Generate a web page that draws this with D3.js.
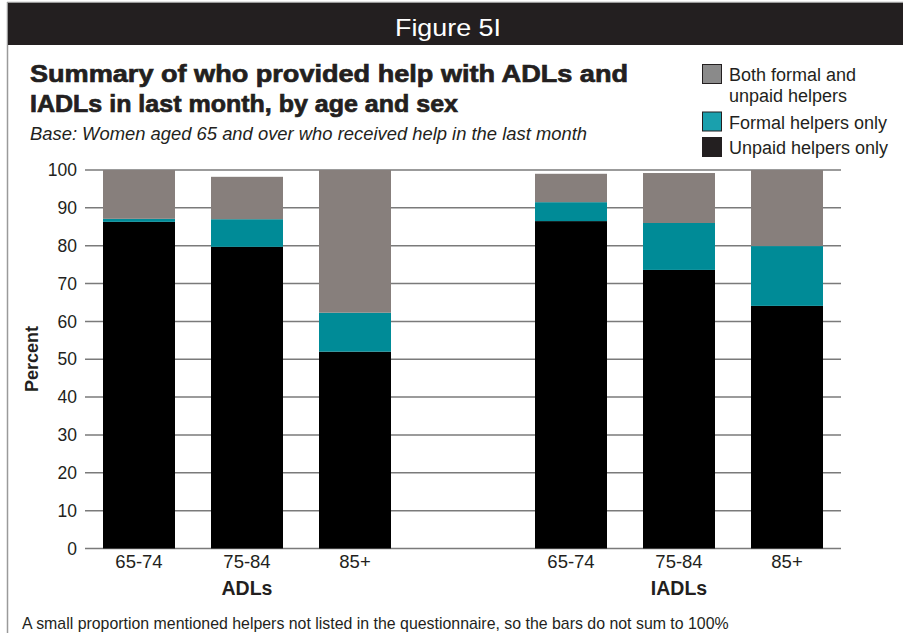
<!DOCTYPE html>
<html><head><meta charset="utf-8">
<script src="https://cdn.jsdelivr.net/npm/d3@7"></script>
<style>body{margin:0;background:#fff}svg{display:block;font-family:"Liberation Sans",Arial,sans-serif}</style>
</head><body>
<script>
const categories = ["ADL 65-74","ADL 75-84","ADL 85+","gap","IADL 65-74","IADL 75-84","IADL 85+"];
const tickLabels = ["65-74","75-84","85+","","65-74","75-84","85+"];
const groupLabels = ["ADLs","IADLs"];
const groupCenters = ["ADL 75-84","IADL 75-84"];
const unpaidOnly = [86.3, 79.7, 52.0, null, 86.5, 73.6, 64.1];
const formalOnly = [0.8, 7.3, 10.3, null, 5.0, 12.4, 15.8];
const bothHelpers = [12.9, 11.2, 37.7, null, 7.5, 13.2, 20.1];
const yTicks = [0,10,20,30,40,50,60,70,80,90,100];

const W = 903, H = 633;
const ink = "#231f20";
const svg = d3.select("body").append("svg").attr("width", W).attr("height", H);

// frame
svg.append("line").attr("x1",7).attr("x2",W).attr("y1",2.5).attr("y2",2.5).attr("stroke","#9a9a9a").attr("stroke-width",1.5);
svg.append("line").attr("x1",7.5).attr("x2",7.5).attr("y1",2).attr("y2",H).attr("stroke","#9a9a9a").attr("stroke-width",1.5);
svg.append("rect").attr("x",8).attr("y",3).attr("width",W-8).attr("height",42).attr("fill",ink);
svg.append("text").attr("x",395).attr("y",36).attr("fill","#fff")
  .attr("font-size",24).attr("textLength",106).attr("lengthAdjust","spacingAndGlyphs").text("Figure 5I");

// title
svg.append("text").attr("x",30).attr("y",82).attr("font-size",24).attr("font-weight",900).attr("fill",ink)
  .attr("stroke",ink).attr("stroke-width",0.7)
  .attr("textLength",598).attr("lengthAdjust","spacingAndGlyphs").text("Summary of who provided help with ADLs and");
svg.append("text").attr("x",30).attr("y",112).attr("font-size",24).attr("font-weight",900).attr("fill",ink)
  .attr("stroke",ink).attr("stroke-width",0.7)
  .attr("textLength",428).attr("lengthAdjust","spacingAndGlyphs").text("IADLs in last month, by age and sex");
svg.append("text").attr("x",30).attr("y",140).attr("font-size",17.5).attr("font-style","italic").attr("fill",ink)
  .attr("textLength",557).attr("lengthAdjust","spacingAndGlyphs")
  .text("Base: Women aged 65 and over who received help in the last month");

// scales
const x = d3.scaleBand().domain(categories).range([85, 841]).paddingInner(1/3).paddingOuter(1/6);
const y = d3.scaleLinear().domain([0,100]).range([548.5, 170]);

// grid
svg.append("g").selectAll("line").data(yTicks).join("line")
  .attr("x1",85).attr("x2",841).attr("y1",d=>y(d)).attr("y2",d=>y(d))
  .attr("stroke","#7a7a7a").attr("stroke-width",1.5);

// y axis labels
const ya = svg.append("g").attr("transform","translate(85,0)")
  .call(d3.axisLeft(y).tickValues(yTicks).tickSize(0).tickPadding(8));
ya.select(".domain").remove();
ya.selectAll("text").attr("font-size",17.5).attr("fill",ink).attr("font-family","Liberation Sans, Arial, sans-serif");

// stacks
const rows = categories.map((c,i)=>({cat:c, unpaid:unpaidOnly[i], formal:formalOnly[i], both:bothHelpers[i]})).filter(r=>r.unpaid!==null);
const stack = d3.stack().keys(["unpaid","formal","both"]);
const colors = {unpaid:"#000000", formal:"#008b97", both:"#877f7c"};
svg.append("g").selectAll("g").data(stack(rows)).join("g").attr("fill",d=>colors[d.key])
  .selectAll("rect").data(d=>d).join("rect")
  .attr("x",d=>x(d.data.cat)).attr("width",x.bandwidth())
  .attr("y",d=>y(d[1])).attr("height",d=>y(d[0])-y(d[1]));

// x axis
const xa = svg.append("g").attr("transform","translate(0,548.5)")
  .call(d3.axisBottom(x).tickSize(0).tickPadding(6).tickFormat((d,i)=>tickLabels[i]));
xa.select(".domain").remove();
xa.selectAll("text").attr("font-size",18.5).attr("fill",ink).attr("font-family","Liberation Sans, Arial, sans-serif");

svg.selectAll("text.grp").data(groupLabels).join("text").attr("class","grp")
  .attr("x",(d,i)=>x(groupCenters[i])+x.bandwidth()/2).attr("y",595).attr("text-anchor","middle")
  .attr("font-size",19.5).attr("font-weight","bold").attr("fill",ink).text(d=>d);

svg.append("text").attr("transform","translate(38,359) rotate(-90)").attr("text-anchor","middle")
  .attr("font-size",18).attr("font-weight","bold").attr("fill",ink).text("Percent");

// legend
const legItems = [
  {lines:["Both formal and","unpaid helpers"], color:"#8a8a8a", y:64},
  {lines:["Formal helpers only"], color:"#1aa0ad", y:111.5},
  {lines:["Unpaid helpers only"], color:ink, y:137}
];
const lg = svg.append("g");
legItems.forEach(it=>{
  lg.append("rect").attr("x",702.5).attr("y",it.y+0.5).attr("width",19).attr("height",19)
    .attr("fill",it.color).attr("stroke",ink).attr("stroke-width",1);
  it.lines.forEach((l,j)=>{
    lg.append("text").attr("x",729).attr("y",it.y+17+j*21).attr("font-size",18).attr("fill",ink).text(l);
  });
});

// footnote
svg.append("text").attr("x",22).attr("y",629).attr("font-size",15.9).attr("fill",ink)
  .text("A small proportion mentioned helpers not listed in the questionnaire, so the bars do not sum to 100%");
</script>
</body></html>
